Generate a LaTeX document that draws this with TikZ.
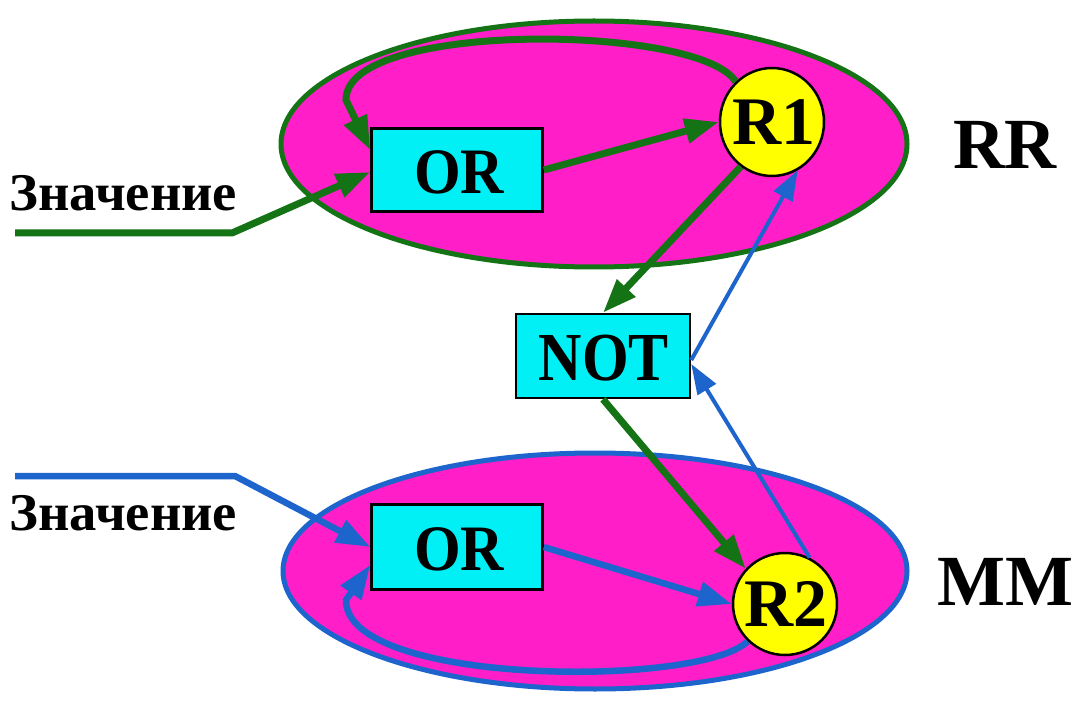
\documentclass[tikz,border=0pt]{standalone}
\usepackage{fontspec}
\setmainfont{Liberation Serif}
\usetikzlibrary{arrows.meta,shapes.geometric,calc}
\definecolor{zone}{RGB}{255,30,200}
\definecolor{gate}{RGB}{0,240,245}
\definecolor{reg}{RGB}{255,255,0}
\definecolor{gpath}{RGB}{20,115,20}
\definecolor{bpath}{RGB}{30,100,205}
\tikzset{
  zonestyle/.style={ellipse, fill=zone, line width=5pt, inner sep=0pt},
  gatebox/.style={rectangle, fill=gate, draw=black, line width=2.5pt, inner sep=0pt},
  gatetext/.style={font=\fontsize{60}{64}\selectfont\bfseries, yscale=1.08},
  regnode/.style={ellipse, fill=reg, draw=black, line width=2.5pt, inner sep=0pt},
  regtext/.style={font=\fontsize{68}{72}\selectfont\bfseries},
  tip/.style={-{Triangle[length=34pt,width=24pt]}},
  gwire/.style={draw=gpath, line width=7pt, tip, gpath},
  bwire/.style={draw=bpath, line width=6.5pt, tip, bpath},
  bthin/.style={draw=bpath, line width=4pt, -{Triangle[length=30pt,width=21pt]}, bpath},
  zlabel/.style={font=\fontsize{72}{76}\selectfont\bfseries},
  vlabel/.style={font=\fontsize{53}{56}\selectfont\bfseries, anchor=west, xscale=1.03},
}
\begin{document}
\begin{tikzpicture}[x=1pt,y=-1pt]
  \useasboundingbox (0,0) rectangle (1077,714);

  % zones
  \node[zonestyle, draw=gpath, minimum width=626pt, minimum height=246pt] (zrr) at (594,144) {};
  \node[zonestyle, draw=bpath, minimum width=624pt, minimum height=236pt] (zmm) at (595,571) {};

  % gates and registers
  \node[gatebox, minimum width=171pt, minimum height=83pt] (orA) at (457,170) {};
  \node[gatetext] (torA) at (459,172) {OR};
  \node[gatebox, minimum width=171pt, minimum height=85pt] (orB) at (457,547) {};
  \node[gatetext] (torB) at (459,549) {OR};
  \node[gatebox, minimum width=174pt, minimum height=84pt] (notb) at (603,356) {};
  \node[gatetext, yscale=1.06] (tnot) at (604,358) {NOT};
  \node[regnode, minimum width=104pt, minimum height=108pt] (r1) at (772,122) {};
  \node[regtext] (tr1) at (774,122) {R1};
  \node[regnode, minimum width=104pt, minimum height=102pt] (r2) at (785,604) {};
  \node[regtext] (tr2) at (786,604) {R2};

  % zone labels
  \node[zlabel] (lrr) at (1005,145) {RR};
  \node[zlabel] (lmm) at (1005,582) {MM};

  % input labels
  \node[vlabel] (vA) at (6,193) {Значение};
  \node[vlabel] (vB) at (6,513) {Значение};

  % RR side (green)
  \coordinate (ginA) at (15,233);
  \coordinate (gkA) at (232,233);
  \draw[gwire, line join=round] (ginA) -- (gkA) -- ([yshift=-2pt]orA.west);
  \draw[gwire] (orA.east) -- (r1.west);
  \draw[gwire] (r1.132) .. controls (700,24) and (345,20) .. (346,100)
     -- ([yshift=20pt]orA.west);
  \draw[gwire] (r1.235) -- (notb.north);
  \draw[gwire] (notb.south) -- (r2.138);

  % MM side (blue)
  \coordinate (binB) at (15,476);
  \coordinate (bkB) at (235,476);
  \draw[bwire, line join=round] (binB) -- (bkB) -- (orB.west);
  \draw[bwire] (orB.east) -- (r2.west);
  \draw[bwire] (r2.225) .. controls (700,688) and (345,686) .. (346,600)
     -- ([yshift=-18pt]orB.west);
  \draw[bthin] (r2.62) -- ([yshift=-8pt]notb.east);
  \draw[bthin] ([yshift=-4pt]notb.east) -- (r1.-62);
\end{tikzpicture}
\end{document}
